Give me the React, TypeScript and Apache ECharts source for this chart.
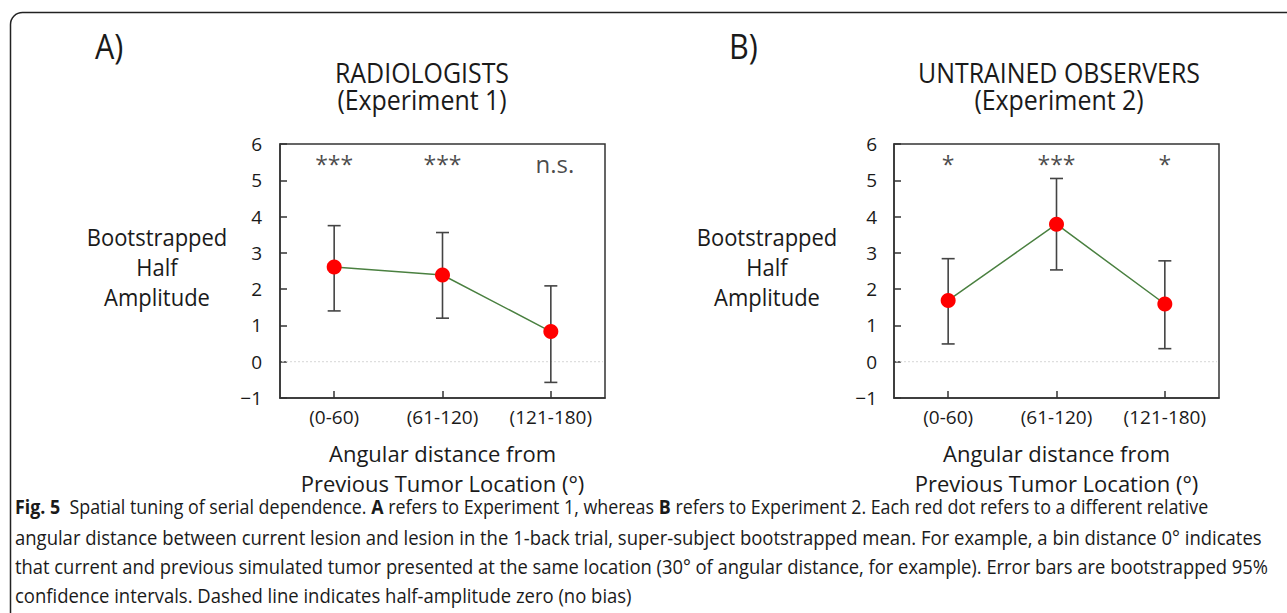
import React, { useEffect, useRef } from "react";
import * as echarts from "echarts";

const categories = ["(0-60)", "(61-120)", "(121-180)"];
const radMean = [2.61, 2.39, 0.83];
const radLow = [1.4, 1.2, -0.57];
const radHigh = [3.75, 3.56, 2.09];
const radSig = ["***", "***", "n.s."];
const untMean = [1.69, 3.79, 1.59];
const untLow = [0.49, 2.53, 0.36];
const untHigh = [2.84, 5.05, 2.78];
const untSig = ["*", "***", "*"];

const captionLines = [
  "{b|Fig. 5}  Spatial tuning of serial dependence. {b|A} refers to Experiment 1, whereas {b|B} refers to Experiment 2. Each red dot refers to a different relative",
  "angular distance between current lesion and lesion in the 1-back trial, super-subject bootstrapped mean. For example, a bin distance 0° indicates",
  "that current and previous simulated tumor presented at the same location (30° of angular distance, for example). Error bars are bootstrapped 95%",
  "confidence intervals. Dashed line indicates half-amplitude zero (no bias)",
];
const captionScale = [0.892, 0.924, 0.919, 0.924];

const FONT = "'Open Sans', 'Noto Sans', sans-serif";
const TXT = "#1a1a1a";
const AX = "#333";
const SIG_Y = 5.45;

function xAxis(gridIndex: number) {
  return {
    type: "category",
    gridIndex,
    data: categories,
    boundaryGap: true,
    axisLine: { show: true, onZero: false, lineStyle: { color: AX, width: 1.5 } },
    axisTick: { show: true, inside: true, alignWithLabel: true, length: 7, lineStyle: { color: AX, width: 1.5 } },
    axisLabel: { color: TXT, fontSize: 19, fontFamily: FONT, margin: 9 },
    splitLine: { show: false },
    name: "Angular distance from\nPrevious Tumor Location (°)",
    nameLocation: "middle",
    nameGap: 40,
    nameTextStyle: { color: TXT, fontSize: 22, fontFamily: FONT, lineHeight: 30 },
  };
}

function yAxis(gridIndex: number, margin: number) {
  return {
    type: "value",
    gridIndex,
    min: -1,
    max: 6,
    interval: 1,
    axisLine: { show: true, onZero: false, lineStyle: { color: AX, width: 1.5 } },
    axisTick: { show: true, inside: true, length: 7, lineStyle: { color: AX, width: 1.5 } },
    axisLabel: {
      color: TXT,
      fontSize: 19,
      fontFamily: FONT,
      margin,
      formatter: (v: number) => (v < 0 ? "\u2212" + Math.abs(v) : String(v)),
    },
    splitLine: { show: false },
  };
}

function errSeries(idx: number, lows: number[], highs: number[]) {
  return {
    type: "custom",
    xAxisIndex: idx,
    yAxisIndex: idx,
    z: 2,
    data: categories.map((_, i) => [i, lows[i], highs[i]]),
    renderItem: (params: any, api: any) => {
      const x = api.value(0);
      const lo = api.coord([x, api.value(1)]);
      const hi = api.coord([x, api.value(2)]);
      const w = 6.5;
      const st = { stroke: "#444", lineWidth: 1.6 };
      return {
        type: "group",
        children: [
          { type: "line", shape: { x1: lo[0], y1: lo[1], x2: hi[0], y2: hi[1] }, style: st },
          { type: "line", shape: { x1: lo[0] - w, y1: lo[1], x2: lo[0] + w, y2: lo[1] }, style: st },
          { type: "line", shape: { x1: hi[0] - w, y1: hi[1], x2: hi[0] + w, y2: hi[1] }, style: st },
        ],
      };
    },
  };
}

function zeroSeries(idx: number) {
  return {
    type: "custom",
    xAxisIndex: idx,
    yAxisIndex: idx,
    z: 1,
    silent: true,
    data: [[0, 0]],
    renderItem: (params: any, api: any) => {
      const p = api.coord([0, 0]);
      const cs = params.coordSys;
      return {
        type: "line",
        shape: { x1: cs.x + 2, y1: p[1], x2: cs.x + cs.width - 2, y2: p[1] },
        style: { stroke: "#d6d6d6", lineWidth: 1, lineDash: [2, 2] },
      };
    },
  };
}

function lineSeries(idx: number, vals: number[]) {
  return {
    type: "line",
    xAxisIndex: idx,
    yAxisIndex: idx,
    z: 3,
    data: vals,
    symbol: "circle",
    symbolSize: 15,
    itemStyle: { color: "#ff0000" },
    lineStyle: { color: "#4a8040", width: 1.5 },
  };
}

function sigSeries(idx: number, sig: string[]) {
  return {
    type: "scatter",
    xAxisIndex: idx,
    yAxisIndex: idx,
    symbolSize: 0,
    data: categories.map((_, i) => [i, SIG_Y]),
    label: {
      show: true,
      position: "inside",
      color: TXT,
      fontFamily: FONT,
      fontSize: 23,
      formatter: (p: any) => (sig[p.dataIndex] === "n.s." ? "{n|n.s.}" : sig[p.dataIndex]),
      rich: { n: { fontSize: 24, fontFamily: FONT, color: TXT, padding: [0, 0, 0, 8] } },
    },
  };
}

function text(x: number, y: number, t: string, fontSize: number, sx: number, align = "center", extra: any = {}) {
  return {
    type: "text",
    x,
    y,
    scaleX: sx,
    style: {
      text: t,
      fill: TXT,
      font: `${fontSize}px ${FONT}`,
      textAlign: align,
      textVerticalAlign: "middle",
      ...extra,
    },
  };
}

export default function App() {
  const ref = useRef<HTMLDivElement>(null);
  useEffect(() => {
    if (!ref.current) return;
    const chart = echarts.init(ref.current, null, { renderer: "svg" });
    const graphic: any[] = [
      {
        type: "rect",
        shape: { x: 10.5, y: 12.5, width: 1400, height: 800, r: 12 },
        style: { fill: "transparent", stroke: "#222", lineWidth: 1.5 },
      },
      text(95, 45, "A)", 34, 0.9, "left"),
      text(729, 45, "B)", 34, 0.9, "left"),
      text(422, 86, "RADIOLOGISTS\n(Experiment 1)", 28, 0.89, "center", { lineHeight: 27 }),
      text(1059, 86, "UNTRAINED OBSERVERS\n(Experiment 2)", 28, 0.89, "center", { lineHeight: 27 }),
      text(157, 267, "Bootstrapped\nHalf\nAmplitude", 24, 0.915, "center", { lineHeight: 30 }),
      text(767, 267, "Bootstrapped\nHalf\nAmplitude", 24, 0.915, "center", { lineHeight: 30 }),
    ];
    const lineYs = [507, 537, 566, 595];
    captionLines.forEach((l, i) => {
      graphic.push({
        type: "text",
        x: 15,
        y: lineYs[i],
        scaleX: captionScale[i],
        style: {
          text: l,
          fill: TXT,
          font: `20px ${FONT}`,
          textAlign: "left",
          textVerticalAlign: "middle",
          rich: { b: { fontWeight: "bold", fontSize: 20, fontFamily: FONT, fill: TXT } },
        },
      });
    });
    chart.setOption({
      animation: false,
      grid: [
        { left: 280, top: 144, width: 325, height: 254, show: true, borderColor: AX, borderWidth: 1.5 },
        { left: 894, top: 144, width: 325, height: 254, show: true, borderColor: AX, borderWidth: 1.5 },
      ],
      xAxis: [xAxis(0), xAxis(1)],
      yAxis: [yAxis(0, 18), yAxis(1, 17)],
      series: [
        zeroSeries(0),
        errSeries(0, radLow, radHigh),
        lineSeries(0, radMean),
        sigSeries(0, radSig),
        zeroSeries(1),
        errSeries(1, untLow, untHigh),
        lineSeries(1, untMean),
        sigSeries(1, untSig),
      ],
      graphic,
    });
    return () => chart.dispose();
  }, []);
  return (
    <div
      ref={ref}
      style={{ position: "fixed", left: 0, top: 0, width: 1287, height: 613, background: "#fff" }}
    />
  );
}
